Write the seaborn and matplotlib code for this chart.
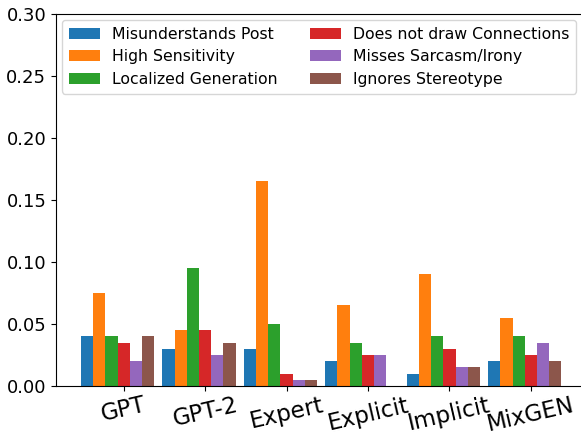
import numpy as np
import pandas as pd
import matplotlib.pyplot as plt
import seaborn as sns

models = ['GPT', 'GPT-2', 'Expert', 'Explicit', 'Implicit', 'MixGEN']
errors = ['Misunderstands Post', 'High Sensitivity', 'Localized Generation',
          'Does not draw Connections', 'Misses Sarcasm/Irony', 'Ignores Stereotype']

# one list per error type, in model order
misunderstands = [0.040, 0.030, 0.030, 0.020, 0.010, 0.020]
sensitivity = [0.075, 0.045, 0.165, 0.065, 0.090, 0.055]
localized = [0.040, 0.095, 0.050, 0.035, 0.040, 0.040]
connections = [0.035, 0.045, 0.010, 0.025, 0.030, 0.025]
sarcasm = [0.020, 0.025, 0.005, 0.025, 0.015, 0.035]
stereotype = [0.040, 0.035, 0.005, 0.000, 0.015, 0.020]

series = [misunderstands, sensitivity, localized, connections, sarcasm, stereotype]
rows = []
for err, vals in zip(errors, series):
    for m, v in zip(models, vals):
        rows.append({'model': m, 'error': err, 'rate': v})
df = pd.DataFrame(rows)

fig = plt.figure(figsize=(5.81, 4.37), dpi=100)
ax = fig.add_axes([56 / 581, 51 / 437, 1 - 56 / 581, 372 / 437])

sns.barplot(data=df, x='model', y='rate', hue='error', hue_order=errors,
            palette='tab10', saturation=1, width=0.9, ax=ax, linewidth=0)

# the original ticks sit half a bar to the right of each group centre
ax.set_xticks(np.arange(len(models)) + 0.075)
ax.set_xticklabels(models)

ax.set_ylim(0, 0.30)
ax.set_xlim(-0.755, 5.69)
ax.set_xlabel('')
ax.set_ylabel('')
ax.tick_params(axis='y', labelsize=13)
ax.tick_params(axis='x', labelsize=16.5, labelrotation=13, pad=2)
ax.spines['right'].set_visible(False)

ax.legend(loc='upper left', ncol=2, fontsize=11.3, title=None,
          bbox_to_anchor=(0.0, 1.0), borderaxespad=0.4)

fig.savefig('out.png', dpi=100)
